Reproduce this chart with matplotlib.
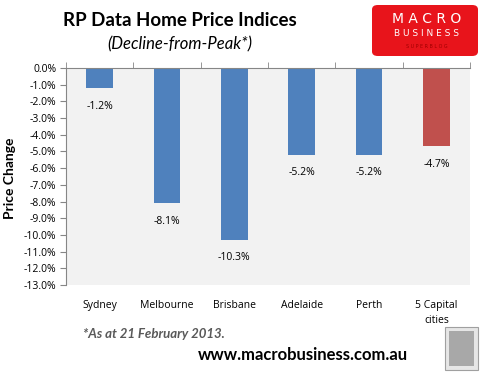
import numpy as np
import matplotlib.pyplot as plt
from matplotlib.patches import Rectangle, FancyBboxPatch

# data (decline from peak, %)
cities = ["Sydney", "Melbourne", "Brisbane", "Adelaide", "Perth", "5 Capital\ncities"]
change = [-1.2, -8.1, -10.3, -5.2, -5.2, -4.7]
bar_colors = ["#4F81BD", "#4F81BD", "#4F81BD", "#4F81BD", "#4F81BD", "#C0504D"]
y_ticks = np.arange(-13, 1, 1)

plt.rcParams['font.family'] = ['Open Sans', 'DejaVu Sans']

fig = plt.figure(figsize=(4.83, 3.73), dpi=100)
ax = fig.add_axes([66 / 483, 1 - 285 / 373, 404 / 483, 217 / 373])
ax.set_facecolor("#F2F2F2")

x = np.arange(len(cities))
ax.bar(x, change, width=0.4, color=bar_colors, zorder=2)

for xi, v in zip(x, change):
    ax.annotate(f"{v:.1f}%", (xi, v), xytext=(0, -9), textcoords="offset points",
                ha="center", va="top", fontsize=7.5, color="black")

ax.set_xlim(-0.5, len(cities) - 0.5)
ax.set_ylim(-13, 0)
ax.set_yticks(y_ticks)
ax.set_yticklabels([f"{v:.1f}%" for v in y_ticks], fontsize=7.5)

ax.set_xticks(x)
ax.set_xticklabels(cities, fontsize=7.5, va="top", linespacing=1.5)
ax.set_xticks(np.arange(-0.5, len(cities)), minor=True)
ax.tick_params(axis="x", which="major", length=0, pad=11)
ax.tick_params(axis="x", which="minor", bottom=False, top=True, direction="out",
               length=4, color="#868686")
ax.tick_params(axis="y", direction="out", length=4, color="#868686", pad=3)

for side in ["right", "bottom"]:
    ax.spines[side].set_visible(False)
for side in ["left", "top"]:
    ax.spines[side].set_color("#868686")
    ax.spines[side].set_linewidth(0.8)

fig.text(10 / 483, 1 - 178 / 373, "Price Change", rotation=90, ha="center", va="center",
         fontsize=10, fontweight="bold", family=["Lato", "DejaVu Sans"])

# titles
fig.text(180 / 483, 1 - 20 / 373, "RP Data Home Price Indices", ha="center", va="center",
         fontsize=13.5, fontweight="bold", family=["Lato", "DejaVu Sans"])
fig.text(180 / 483, 1 - 44 / 373, "(Decline-from-Peak*)", ha="center", va="center",
         fontsize=12, style="italic", family=["Lato", "DejaVu Sans"])

# footer
fig.text(83 / 483, 1 - 334 / 373, "*As at 21 February 2013.", ha="left", va="center",
         fontsize=9.5, fontweight="bold", style="italic", color="#595959",
         family=["Lato", "DejaVu Sans"])
fig.text(303 / 483, 1 - 355 / 373, "www.macrobusiness.com.au", ha="center", va="center",
         fontsize=12, fontweight="bold", color="black", family=["Lato", "DejaVu Sans"])

# logo box
logo = FancyBboxPatch((372 / 483, 1 - 56 / 373), 106 / 483, 51 / 373,
                      boxstyle="round,pad=0,rounding_size=0.012", transform=fig.transFigure,
                      facecolor="#E8141B", edgecolor="none")
fig.patches.append(logo)
fig.text(427 / 483, 1 - 19 / 373, "M A C R O", ha="center", va="center", fontsize=10,
         color="white", family=["DejaVu Sans"])
fig.text(427 / 483, 1 - 34 / 373, "B U S I N E S S", ha="center", va="center", fontsize=6.5,
         color="white", family=["DejaVu Sans"])
fig.text(427 / 483, 1 - 46 / 373, "S U P E R B L O G", ha="center", va="center", fontsize=3.5,
         color="#A00000", family=["DejaVu Sans"])

# wolf image placeholder
wolf = Rectangle((445 / 483, 1 - 370 / 373), 33 / 483, 43 / 373, transform=fig.transFigure,
                 facecolor="#E6E6E6", edgecolor="#A0A0A0", linewidth=0.8)
fig.patches.append(wolf)
wolf_in = Rectangle((449 / 483, 1 - 366 / 373), 25 / 483, 35 / 373, transform=fig.transFigure,
                    facecolor="#A8A8A8", edgecolor="none")
fig.patches.append(wolf_in)

fig.savefig("out.png", dpi=100)
